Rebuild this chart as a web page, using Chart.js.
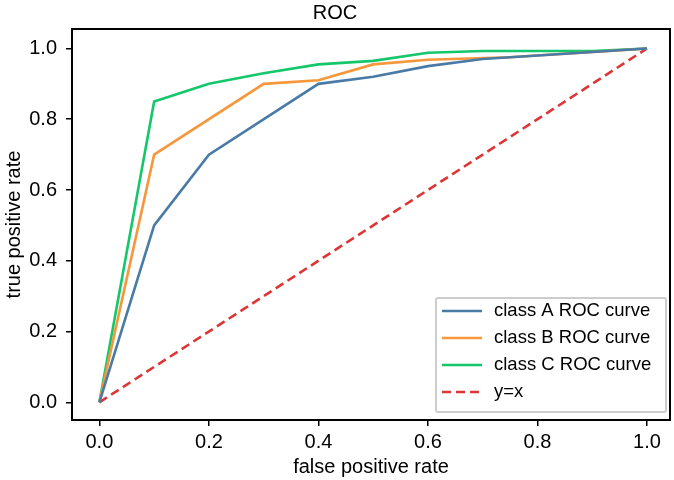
<!DOCTYPE html>
<html>
<head>
<meta charset="utf-8">
<script src="https://cdn.jsdelivr.net/npm/chart.js@4.4.0/dist/chart.umd.min.js"></script>
<style>
  html, body { margin: 0; padding: 0; background: #fff; }
  #wrap { width: 674px; height: 480px; }
</style>
</head>
<body>
<div id="wrap"><canvas id="roc" width="674" height="480"></canvas></div>
<script>
// ROC points per class (false positive rate -> true positive rate)
const FPR_A = [0, 0.1, 0.2, 0.4, 0.5, 0.6, 0.7, 0.9, 1.0];
const TPR_A = [0, 0.5, 0.7, 0.9, 0.92, 0.95, 0.97, 0.99, 1.0];
const FPR_B = [0, 0.1, 0.3, 0.4, 0.5, 0.6, 0.75, 0.9, 1.0];
const TPR_B = [0, 0.7, 0.9, 0.91, 0.955, 0.968, 0.975, 0.99, 1.0];
const FPR_C = [0, 0.1, 0.2, 0.3, 0.4, 0.5, 0.6, 0.7, 0.9, 1.0];
const TPR_C = [0, 0.85, 0.9, 0.93, 0.955, 0.965, 0.988, 0.993, 0.993, 1.0];
const DIAG = [0, 1];

const TICKS = [0, 0.2, 0.4, 0.6, 0.8, 1.0];
const NAMES = ['class A ROC curve', 'class B ROC curve', 'class C ROC curve', 'y=x'];
const COLORS = ['#4a7ba6', '#f5973a', '#14c76b', '#dd3535'];

const FONT = 'Liberation Sans, Arial, Helvetica, sans-serif';

function toPoints(xs, ys) {
  return xs.map((x, i) => ({ x: x, y: ys[i] }));
}

// black box around the plotting area
const framePlugin = {
  id: 'frame',
  afterDatasetsDraw(chart) {
    const { ctx, chartArea: a } = chart;
    ctx.save();
    ctx.strokeStyle = '#000';
    ctx.lineWidth = 2;
    ctx.strokeRect(a.left, a.top, a.right - a.left, a.bottom - a.top);
    ctx.restore();
  }
};

// legend boxed in the lower right corner of the plot
const cornerLegend = {
  id: 'cornerLegend',
  afterDraw(chart) {
    const { ctx, chartArea: a } = chart;
    const w = 230, h = 114;
    const x = a.right - 4 - w, y = a.bottom - 8 - h;
    ctx.save();
    ctx.fillStyle = 'rgba(255,255,255,0.85)';
    ctx.strokeStyle = '#cccccc';
    ctx.lineWidth = 2;
    ctx.beginPath();
    ctx.roundRect(x, y, w, h, 2);
    ctx.fill();
    ctx.stroke();

    ctx.font = '18.5px ' + FONT;
    ctx.textBaseline = 'middle';
    ctx.textAlign = 'left';
    chart.data.datasets.forEach((ds, i) => {
      const rowY = y + 13 + i * 27;
      ctx.strokeStyle = ds.borderColor;
      ctx.lineWidth = 2.5;
      ctx.setLineDash(ds.borderDash || []);
      ctx.beginPath();
      ctx.moveTo(x + 6, rowY);
      ctx.lineTo(x + 46, rowY);
      ctx.stroke();
      ctx.setLineDash([]);
      ctx.fillStyle = '#000';
      ctx.fillText(ds.label, x + 58, rowY);
    });
    ctx.restore();
  }
};

function lineSet(label, xs, ys, color, dash) {
  return {
    label: label,
    data: toPoints(xs, ys),
    showLine: true,
    borderColor: color,
    backgroundColor: color,
    borderWidth: 2.6,
    borderDash: dash || [],
    pointRadius: 0,
    tension: 0
  };
}

const tickFont = { family: FONT, size: 20 };

new Chart(document.getElementById('roc'), {
  type: 'scatter',
  data: {
    datasets: [
      lineSet(NAMES[0], FPR_A, TPR_A, COLORS[0]),
      lineSet(NAMES[1], FPR_B, TPR_B, COLORS[1]),
      lineSet(NAMES[2], FPR_C, TPR_C, COLORS[2]),
      lineSet(NAMES[3], DIAG, DIAG, COLORS[3], [9, 5])
    ]
  },
  options: {
    responsive: false,
    animation: false,
    layout: { padding: { right: 4 } },
    plugins: {
      legend: { display: false },
      tooltip: { enabled: false },
      title: {
        display: true,
        text: 'ROC',
        color: '#000',
        font: { family: FONT, size: 20, weight: 'normal' },
        padding: { top: 1, bottom: 4 }
      }
    },
    scales: {
      x: {
        type: 'linear',
        min: -0.05,
        max: 1.042,
        afterBuildTicks: s => { s.ticks = TICKS.map(v => ({ value: v })); },
        afterFit: s => { s.height = 60; },
        ticks: { callback: v => v.toFixed(1), color: '#000', font: tickFont, padding: 4, maxRotation: 0 },
        grid: { drawOnChartArea: false, drawTicks: true, tickLength: 6, color: '#000', lineWidth: 1.5 },
        border: { display: false },
        title: { display: true, text: 'false positive rate', color: '#000', font: { family: FONT, size: 20 }, padding: { top: 0, bottom: 1 } }
      },
      y: {
        type: 'linear',
        min: -0.05,
        max: 1.055,
        afterBuildTicks: s => { s.ticks = TICKS.map(v => ({ value: v })); },
        afterFit: s => { s.width = 72; },
        ticks: { callback: v => v.toFixed(1), color: '#000', font: tickFont, padding: 9 },
        grid: { drawOnChartArea: false, drawTicks: true, tickLength: 6, color: '#000', lineWidth: 1.5 },
        border: { display: false },
        title: { display: true, text: 'true positive rate', color: '#000', font: { family: FONT, size: 20 }, padding: { top: 2, bottom: 0 } }
      }
    }
  },
  plugins: [framePlugin, cornerLegend]
});
</script>
</body>
</html>
